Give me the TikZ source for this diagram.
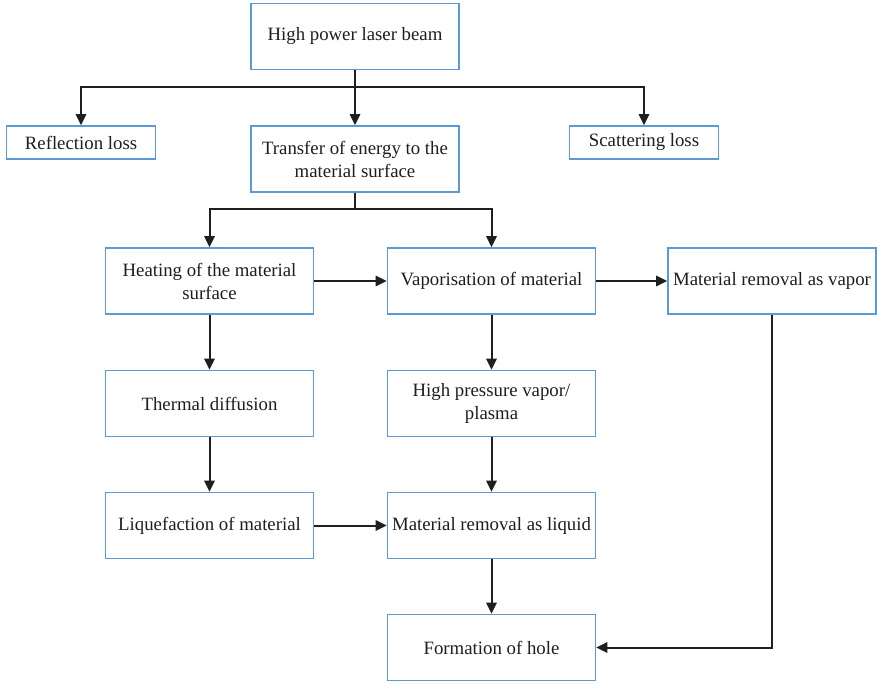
\documentclass[tikz,border=0pt]{standalone}
\usepackage{fontspec}
\setmainfont{Liberation Serif}
\usetikzlibrary{arrows.meta}
\definecolor{boxblue}{RGB}{91,155,213}
\definecolor{inkgray}{RGB}{30,30,30}
\tikzset{
	flowbox/.style={draw=boxblue, line width=0.8pt, text=inkgray, align=center,
		minimum width=104pt, minimum height=33pt, inner sep=1pt,
		font=\fontsize{9.4}{11.5}\selectfont},
	lossbox/.style={flowbox, minimum width=74.5pt, minimum height=16.5pt},
	linkline/.style={draw=black!88, line width=1pt},
	arrowline/.style={linkline, -{Triangle[length=5.5pt,width=5.2pt]}}
}

\begin{document}
\begin{tikzpicture}[x=0.5pt, y=-0.5pt]
		%%%%% START %%%%%
		\useasboundingbox (0, 0) rectangle (877, 684);
		
		\node[flowbox] (laser) at (355, 36.5) {High power laser beam};
		\node[lossbox] (reflect) at (81, 142.5) {Reflection loss};
		\node[flowbox] (transfer) at (355, 159) {Transfer of energy to the\\material surface};
		\node[lossbox] (scatter) at (644, 142.5) {Scattering loss};
		
		\node[flowbox] (heating) at (209.5, 281) {Heating of the material\\surface};
		\node[flowbox] (vapor) at (491.5, 281) {Vaporisation of material};
		\node[flowbox] (vapremove) at (772, 281) {Material removal as vapor};
		
		\node[flowbox] (thermal) at (209.5, 403.5) {Thermal diffusion};
		\node[flowbox] (plasma) at (491.5, 403.5) {High pressure vapor/\\plasma};
		
		\node[flowbox] (liquefy) at (209.5, 525.5) {Liquefaction of material};
		\node[flowbox] (liqremove) at (491.5, 525.5) {Material removal as liquid};
		
		\node[flowbox] (hole) at (491.5, 647.5) {Formation of hole};
		
		% splitting points
		\coordinate (split1) at (355, 87);
		\coordinate (split2) at (355, 209);
		
		\draw[arrowline] (laser.south) -- (transfer.north);
		\draw[arrowline] (split1) -| (reflect.north);
		\draw[arrowline] (split1) -| (scatter.north);
		
		\draw[linkline] (transfer.south) -- (split2);
		\draw[arrowline] (split2) -| (heating.north);
		\draw[arrowline] (split2) -| (vapor.north);
		
		\draw[arrowline] (heating.east) -- (vapor.west);
		\draw[arrowline] (vapor.east) -- (vapremove.west);
		
		\draw[arrowline] (heating.south) -- (thermal.north);
		\draw[arrowline] (thermal.south) -- (liquefy.north);
		\draw[arrowline] (liquefy.east) -- (liqremove.west);
		
		\draw[arrowline] (vapor.south) -- (plasma.north);
		\draw[arrowline] (plasma.south) -- (liqremove.north);
		\draw[arrowline] (liqremove.south) -- (hole.north);
		
		\draw[arrowline] (vapremove.south) |- (hole.east);
		
		%%%%% END %%%%%
	\end{tikzpicture}
\end{document}
